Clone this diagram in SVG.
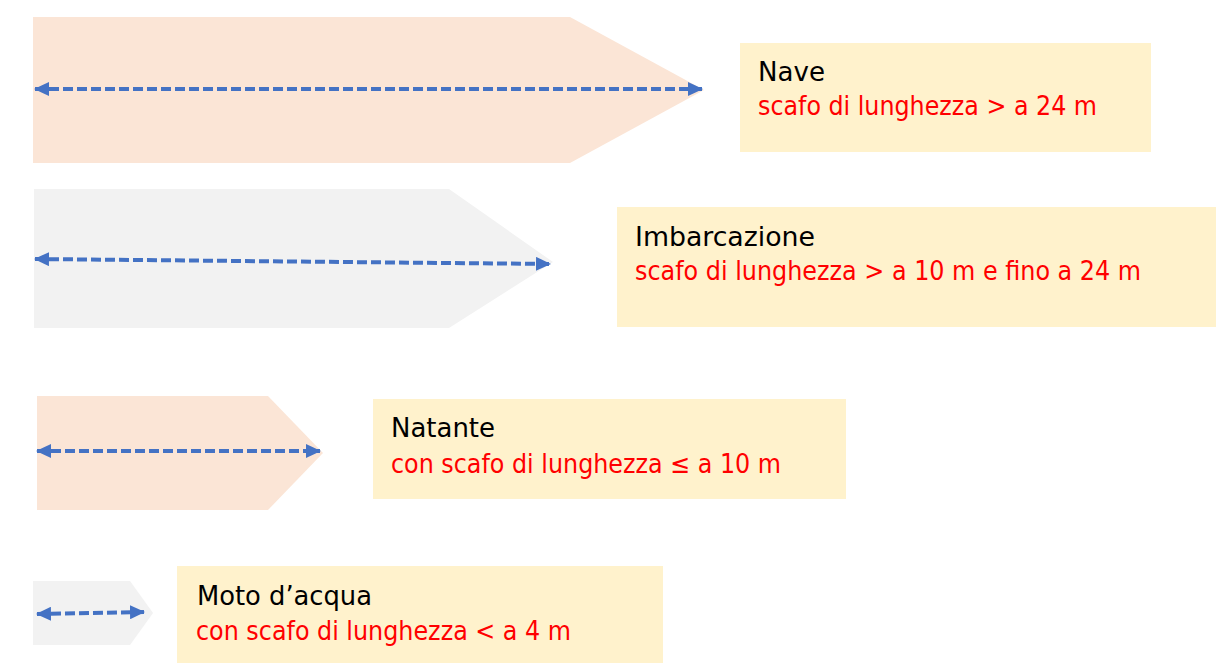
<svg xmlns="http://www.w3.org/2000/svg" width="1217" height="671" viewBox="0 0 1217 671">
<style>
.peach{fill:#FBE5D6}
.gray{fill:#F2F2F2}
.box{fill:#FFF2CC}
.t{font-family:"DejaVu Sans Condensed","DejaVu Sans","Liberation Sans",sans-serif;font-size:26px;fill:#000}
.r{font-family:"DejaVu Sans Condensed","DejaVu Sans","Liberation Sans",sans-serif;font-size:26px;fill:#FF0000}
.arr{stroke:#4472C4;stroke-width:4;stroke-dasharray:10,4;fill:none;marker-start:url(#ah);marker-end:url(#ah)}
</style>
<defs>
<marker id="ah" viewBox="0 0 15 14" refX="14" refY="7" markerWidth="15" markerHeight="14" orient="auto-start-reverse" markerUnits="userSpaceOnUse">
<path d="M0,0 L15,7 L0,14 z" fill="#4472C4"/>
</marker>
</defs>
<g id="shape-nave"><polygon class="peach" points="33,17 570,17 704,90 570,163 33,163"/></g>
<g id="shape-imbarcazione"><polygon class="gray" points="34,189 449,189 553,262 449,328 34,328"/></g>
<g id="shape-natante"><polygon class="peach" points="37,396 268,396 323,453 268,510 37,510"/></g>
<g id="shape-moto"><polygon class="gray" points="33,581 130,581 153,613 130,645 33,645"/></g>
<g id="connectors">
<line class="arr" x1="35" y1="89" x2="702" y2="89"/>
<line class="arr" x1="35" y1="259" x2="550" y2="264"/>
<line class="arr" x1="37" y1="451" x2="320" y2="451"/>
<line class="arr" x1="37" y1="614" x2="144" y2="612"/>
</g>
<g id="box-nave"><rect class="box" x="740" y="43" width="411" height="109"/>
<text class="t" x="758" y="81" textLength="67" lengthAdjust="spacingAndGlyphs">Nave</text>
<text class="r" x="758" y="115" textLength="339" lengthAdjust="spacingAndGlyphs">scafo di lunghezza &gt; a 24 m</text></g>
<g id="box-imbarcazione"><rect class="box" x="617" y="207" width="599" height="120"/>
<text class="t" x="635" y="246" textLength="180" lengthAdjust="spacingAndGlyphs">Imbarcazione</text>
<text class="r" x="635" y="280" textLength="506" lengthAdjust="spacingAndGlyphs">scafo di lunghezza &gt; a 10 m e fino a 24 m</text></g>
<g id="box-natante"><rect class="box" x="373" y="399" width="473" height="100"/>
<text class="t" x="391" y="437" textLength="104" lengthAdjust="spacingAndGlyphs">Natante</text>
<text class="r" x="391" y="473" textLength="390" lengthAdjust="spacingAndGlyphs">con scafo di lunghezza ≤ a 10 m</text></g>
<g id="box-moto"><rect class="box" x="177" y="566" width="486" height="97"/>
<text class="t" x="197" y="605" textLength="175" lengthAdjust="spacingAndGlyphs">Moto d’acqua</text>
<text class="r" x="196" y="640" textLength="375" lengthAdjust="spacingAndGlyphs">con scafo di lunghezza &lt; a 4 m</text></g>
</svg>
